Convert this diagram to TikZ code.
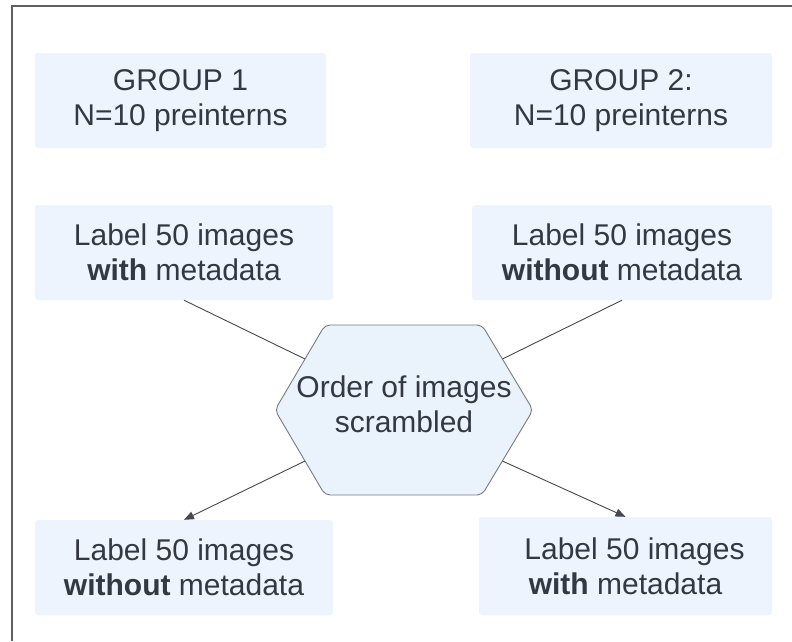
\documentclass[tikz,border=0pt]{standalone}
\usepackage{fontspec}
\setmainfont{Liberation Sans}
\usetikzlibrary{arrows.meta,calc}

\definecolor{boxfill}{RGB}{237,244,253}
\definecolor{hexfill}{RGB}{234,242,252}
\definecolor{inkc}{RGB}{51,56,66}
\definecolor{framec}{RGB}{96,96,96}
\definecolor{edgec}{RGB}{120,124,130}
\definecolor{linkc}{RGB}{70,72,78}

\tikzset{
  stepbox/.style={rectangle, fill=boxfill, rounded corners=3pt, inner sep=0pt,
    align=center, text=inkc, font=\fontsize{30}{35}\selectfont},
  link/.style={draw=linkc, line width=0.9pt},
  arrowlink/.style={link, -{Triangle[length=10pt,width=8pt]}},
}

\begin{document}
\begin{tikzpicture}[x=1pt,y=-1pt]
  \useasboundingbox (0,0) rectangle (792,641);
  \fill[white] (0,0) rectangle (792,641);

  % page frame (top and left edges)
  \draw[framec, line width=2pt] (12,641) -- (12,6) -- (792,6);

  % group headers
  \node[stepbox, minimum width=291pt, minimum height=95pt] (g1) at (180.5,100.5)
    {GROUP 1\\N=10 preinterns};
  \node[stepbox, minimum width=302pt, minimum height=95pt] (g2) at (621,100.5)
    {GROUP 2:\\N=10 preinterns};

  % first labelling round
  \node[stepbox, minimum width=298pt, minimum height=95pt] (l1) at (184,252.5)
    {Label 50 images\\\textbf{with} metadata};
  \node[stepbox, minimum width=300pt, minimum height=95pt] (r1) at (622,252.5)
    {Label 50 images\\\textbf{without} metadata};

  % scramble step (hexagon)
  \coordinate (hl)  at (275,410);
  \coordinate (htl) at (325,325);
  \coordinate (htr) at (482,325);
  \coordinate (hr)  at (533,410);
  \coordinate (hbr) at (482,495);
  \coordinate (hbl) at (325,495);
  \draw[fill=hexfill, draw=edgec, line width=0.9pt, rounded corners=5pt]
    (hl) -- (htl) -- (htr) -- (hr) -- (hbr) -- (hbl) -- cycle;
  \node[align=center, text=inkc, font=\fontsize{30}{35}\selectfont, inner sep=0pt]
    (hex) at (404,404) {Order of images\\scrambled};

  % second labelling round
  \node[stepbox, minimum width=298pt, minimum height=95pt] (l2) at (184,567.5)
    {Label 50 images\\\textbf{without} metadata};
  \node[stepbox, minimum width=293pt, minimum height=98pt] (r2) at (625.5,566)
    {\hspace*{18pt}Label 50 images\\\textbf{with} metadata};

  % connectors
  \draw[link] (l1.south) -- ($(hl)!0.6!(htl)$);
  \draw[link] (r1.south) -- ($(hr)!0.6!(htr)$);
  \draw[arrowlink] ($(hl)!0.6!(hbl)$) -- (l2.north);
  \draw[arrowlink] ($(hr)!0.6!(hbr)$) -- (r2.north);
\end{tikzpicture}
\end{document}
